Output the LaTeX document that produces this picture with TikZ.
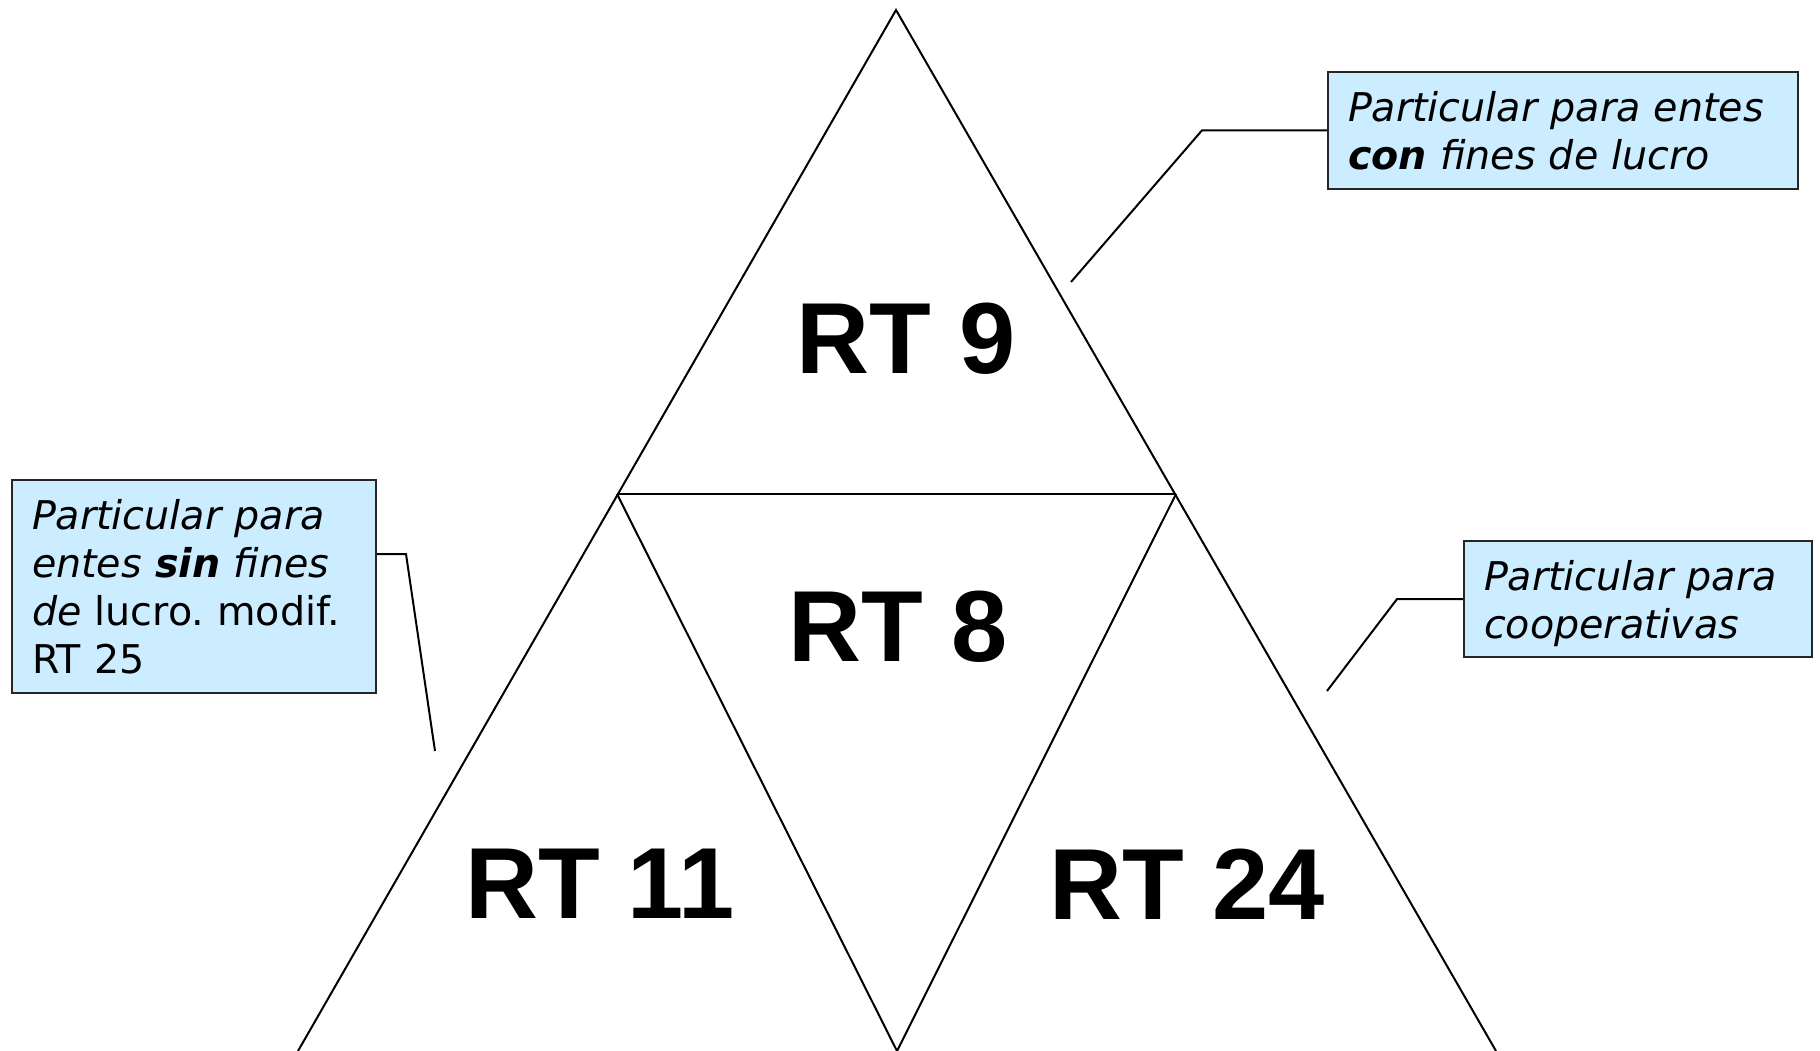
\documentclass[tikz,border=0pt]{standalone}
\usepackage{fontspec}
\usepackage{tikz}
\usepackage{xcolor}
\usetikzlibrary{positioning}
\newfontfamily\rtfont{Liberation Sans}
\newfontfamily\notefont{DejaVu Sans}
\definecolor{noteblue}{RGB}{204,236,255}
\tikzset{
    rtlabel/.style={inner sep=0pt, font=\rtfont\fontsize{101}{101}\selectfont\bfseries},
    notebox/.style={draw=black!85, line width=2pt, fill=noteblue, anchor=north west,
        inner xsep=20pt, inner ysep=19pt, align=left,
        font=\notefont\fontsize{39.6}{48}\selectfont\frenchspacing},
    edge/.style={line width=2pt, line join=miter}
}

\begin{document}
\begin{tikzpicture}[x=1pt, y=-1pt]
            \useasboundingbox (0,0) rectangle (1820,1051);
            
            % corners of the triangles
            \coordinate (apex) at (896,10);
            \coordinate (midL) at (617,494);
            \coordinate (midR) at (1176,494);
            \coordinate (botL) at (298,1051);
            \coordinate (botM) at (897,1051);
            \coordinate (botR) at (1496,1051);
            
            \draw[edge] (botL)--(apex)--(botR);
            \draw[edge] (midL)--(midR);
            \draw[edge] (midL)--(botM)--(midR);
            
            \node[rtlabel] (rt9)  at (906,339) {RT 9};
            \node[rtlabel] (rt8)  at (898,627) {RT 8};
            \node[rtlabel] (rt11) at (600,884) {RT 11};
            \node[rtlabel] (rt24) at (1187,884) {RT 24};
            
            % notes
            \node[notebox, text width=430pt] (conNote) at (1327,71)
                {\textit{Particular para entes}\\ \textit{\textbf{con} fines de lucro}};
            \node[notebox, text width=324pt] (sinNote) at (11,479)
                {\textit{Particular para}\\ \textit{entes \textbf{sin} fines}\\ \textit{de} lucro. modif.\\ RT 25};
            \node[notebox, text width=308pt] (coopNote) at (1463,540)
                {\textit{Particular para}\\ \raisebox{0pt}[\height][0pt]{\textit{cooperativas}}};
            
            \coordinate (conEnd) at (1071,282);
            \coordinate (sinEnd) at (435,751);
            \coordinate (coopEnd) at (1327,691);
            
            \draw[edge] (conNote.west) -- ++(-125,0) -- (conEnd);
            \draw[edge] (sinNote.north east) ++(0,75) -- ++(29,0) -- (sinEnd);
            \draw[edge] (coopNote.west) -- ++(-66,0) -- (coopEnd);
\end{tikzpicture}
\end{document}
